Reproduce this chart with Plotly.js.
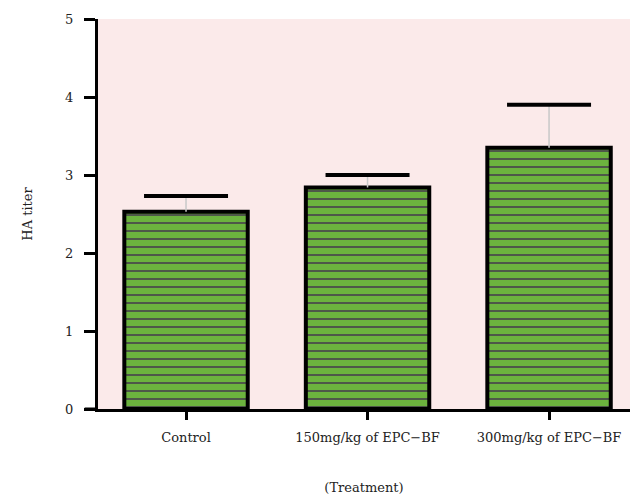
<!DOCTYPE html>
<html>
<head>
<meta charset="utf-8">
<script src="https://cdn.plot.ly/plotly-3.0.1.min.js"></script>
<style>html,body{margin:0;padding:0;background:#fff;}#chart{width:630px;height:500px;}</style>
</head>
<body>
<div id="chart"></div>
<script>
const categories = ["Control", "150mg/kg of EPC\u2212BF", "300mg/kg of EPC\u2212BF"];
const means = [2.53, 2.84, 3.35];
const sds = [0.20, 0.16, 0.55];
const yTicks = [0, 1, 2, 3, 4, 5];

const caps = means.map((m, i) => m + sds[i]);
const font = {family: "DejaVu Serif", size: 13, color: "#222"};

const traces = [
  {
    type: "bar",
    x: categories,
    y: means,
    width: 0.68,
    marker: {
      color: "#6cb33e",
      line: {color: "#000", width: 4},
      pattern: {shape: "-", fgcolor: "#4a4a4a", bgcolor: "#6cb33e", size: 8, solidity: 0.22, fillmode: "replace"}
    },
    error_y: {type: "data", symmetric: false, array: sds, arrayminus: [0, 0, 0], visible: true, color: "#c8c8c8", thickness: 1.5, width: 0},
    hoverinfo: "none"
  },
  {
    type: "scatter",
    mode: "markers",
    x: categories,
    y: caps,
    marker: {symbol: "line-ew", size: 60, color: "#000", line: {color: "#000", width: 4}},
    hoverinfo: "none",
    cliponaxis: false
  }
];

const layout = {
  width: 630,
  height: 500,
  margin: {l: 98, r: 0, t: 19, b: 91},
  paper_bgcolor: "#fff",
  plot_bgcolor: "#fbeaea",
  showlegend: false,
  font: font,
  xaxis: {
    type: "category",
    range: [-0.485, 2.446],
    showline: true,
    linecolor: "#000",
    linewidth: 3,
    ticks: "outside",
    ticklen: 8,
    tickwidth: 3,
    tickcolor: "#000",
    ticklabelstandoff: 6,
    showgrid: false,
    zeroline: false,
    tickfont: font,
    title: {text: "(Treatment)", font: font, standoff: 40}
  },
  yaxis: {
    range: [0, 5],
    tickvals: yTicks,
    ticktext: yTicks.map(String),
    showline: true,
    linecolor: "#000",
    linewidth: 3,
    ticks: "outside",
    ticklen: 11,
    tickwidth: 3,
    tickcolor: "#000",
    ticklabelstandoff: 8,
    showgrid: false,
    zeroline: false,
    tickfont: font,
    title: {text: "HA titer", font: font, standoff: 30}
  },
  shapes: [
    {type: "line", xref: "paper", yref: "y", x0: -0.025, x1: 0, y0: 0, y1: 0, line: {color: "#000", width: 3}}
  ]
};

Plotly.newPlot("chart", traces, layout, {displayModeBar: false, staticPlot: true});
</script>
</body>
</html>
